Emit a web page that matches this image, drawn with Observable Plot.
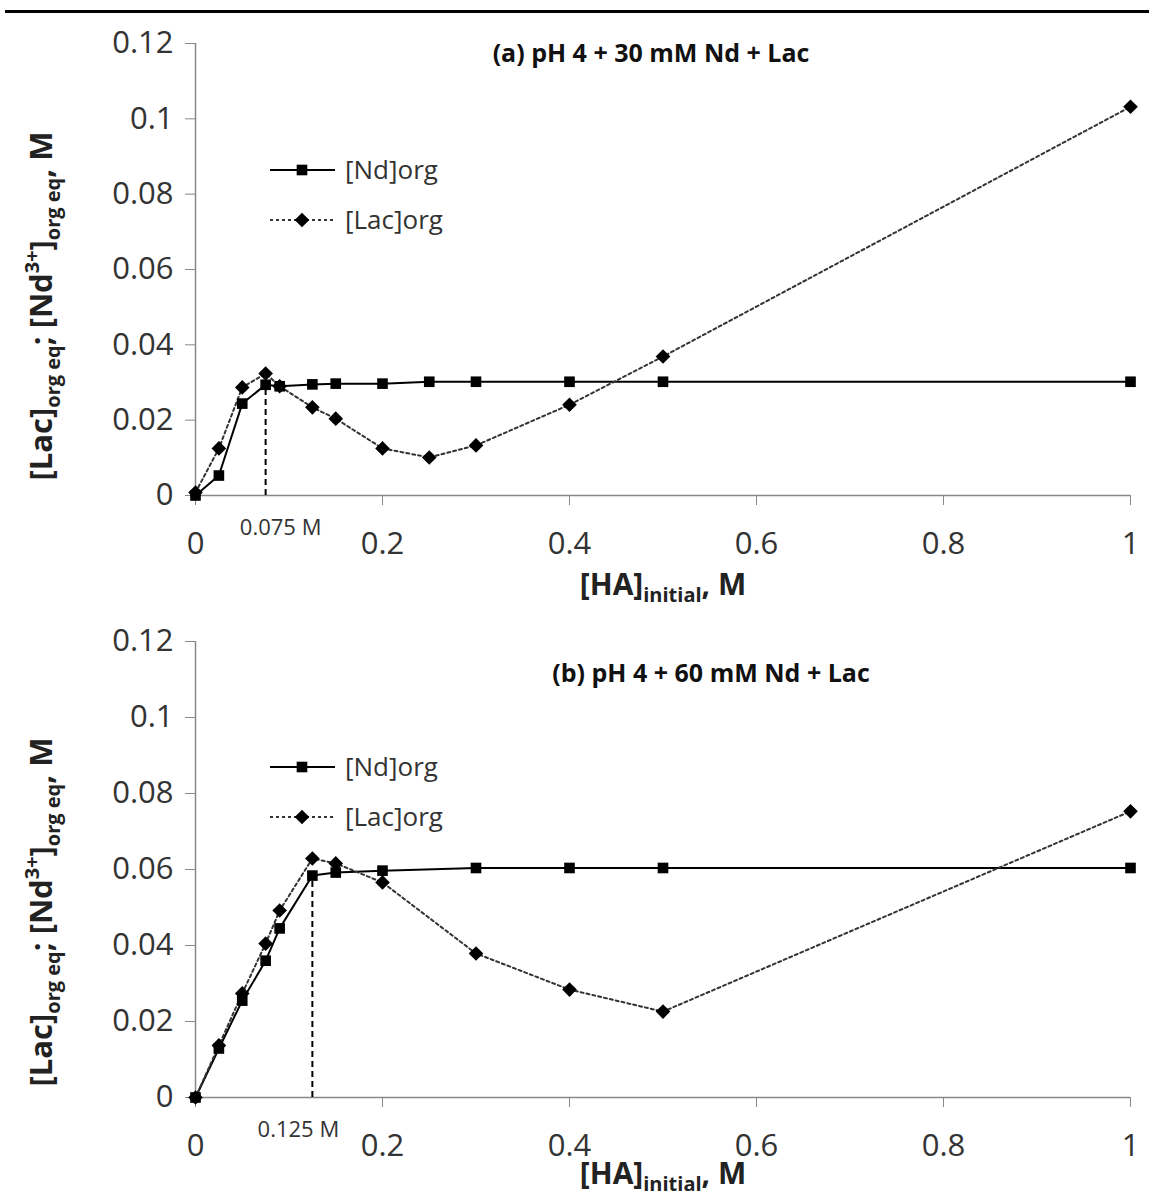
<!DOCTYPE html>
<html><head><meta charset="utf-8">
<script src="https://cdn.jsdelivr.net/npm/d3@7"></script>
<script src="https://cdn.jsdelivr.net/npm/@observablehq/plot@0.6"></script>
<style>
html,body{margin:0;padding:0;background:#fff;}
body{width:1149px;height:1200px;position:relative;overflow:hidden;font-family:"Open Sans",sans-serif;}
#rule{position:absolute;left:5px;top:10px;width:1144px;height:3px;background:#000;z-index:2;}
#a{position:absolute;left:0;top:15px;z-index:1;}
#b{position:absolute;left:0;top:600px;}
svg{overflow:visible;}
</style></head><body>
<div id="rule"></div><div id="a"></div><div id="b"></div>
<script>
// Panel (a): pH 4 + 30 mM Nd + Lac
const xA   = [0, 0.025, 0.05, 0.075, 0.09, 0.125, 0.15, 0.2, 0.25, 0.3, 0.4, 0.5, 1];
const ndA  = [0, 0.0053, 0.0244, 0.0294, 0.029, 0.0295, 0.0297, 0.0297, 0.0302, 0.0302, 0.0302, 0.0302, 0.0302];
const lacA = [0.0008, 0.0125, 0.0287, 0.0324, 0.029, 0.0234, 0.0204, 0.0125, 0.0101, 0.0133, 0.0241, 0.0369, 0.1032];
const cutA = 0.075, cutTopA = 0.0294;
// Panel (b): pH 4 + 60 mM Nd + Lac
const xB   = [0, 0.025, 0.05, 0.075, 0.09, 0.125, 0.15, 0.2, 0.3, 0.4, 0.5, 1];
const ndB  = [0, 0.0129, 0.0255, 0.036, 0.0445, 0.0584, 0.0592, 0.0597, 0.0604, 0.0604, 0.0604, 0.0604];
const lacB = [0, 0.0137, 0.0274, 0.0405, 0.0492, 0.0629, 0.0616, 0.0566, 0.0379, 0.0284, 0.0226, 0.0753];
const cutB = 0.125, cutTopB = 0.057;

const titles = ["(a) pH 4 + 30 mM Nd + Lac", "(b) pH 4 + 60 mM Nd + Lac"];
const seriesNames = ["[Nd]org", "[Lac]org"];
const xTicks = [0, 0.2, 0.4, 0.6, 0.8, 1];
const yTicks = [0, 0.02, 0.04, 0.06, 0.08, 0.1, 0.12];

const fmt = d => String(+d.toFixed(3));
const FONT = "'Open Sans', sans-serif";

function panel(el, cfg) {
  const rows = cfg.xs.map((x, i) => ({x, nd: cfg.nd[i], lac: cfg.lac[i]}));
  const cut = [{x: cfg.cut, y1: 0, y2: cfg.cutTop, label: fmt(cfg.cut) + " M"}];
  const plot = Plot.plot({
    width: 1149, height: cfg.h,
    marginLeft: 195, marginRight: 19, marginTop: cfg.mt, marginBottom: cfg.mb,
    style: {fontFamily: FONT, fontSize: "31px", color: "#333", background: "white", overflow: "visible"},
    x: {domain: [0, 1]},
    y: {domain: [0, 0.12]},
    marks: [
      Plot.axisX({ticks: xTicks, tickFormat: fmt, tickSize: 10, tickPadding: 26, label: null, stroke: "#888", fill: "#333"}),
      Plot.axisY({ticks: yTicks, tickFormat: fmt, tickSize: 10, tickPadding: 12, label: null, stroke: "#888", fill: "#333"}),
      Plot.ruleY([0], {stroke: "#888", strokeWidth: 1.5}),
      Plot.ruleX([0], {stroke: "#888", strokeWidth: 1.5}),
      Plot.ruleX(cut, {x: "x", y1: "y1", y2: "y2", stroke: "black", strokeWidth: 2, strokeDasharray: "6,4"}),
      Plot.text(cut, {x: "x", y: "y1", text: "label", dx: cfg.cutDx, dy: 32, fontSize: 22, fill: "#333"}),
      Plot.line(rows, {x: "x", y: "nd", stroke: "black", strokeWidth: 2}),
      Plot.line(rows, {x: "x", y: "lac", stroke: "#333", strokeWidth: 2, strokeDasharray: "3,3"}),
      Plot.dot(rows, {x: "x", y: "nd", symbol: "square", fill: "black", r: 6}),
      Plot.dot(rows, {x: "x", y: "lac", symbol: "diamond2", fill: "black", r: 6.6}),
      Plot.text([cfg.title], {frameAnchor: "top", lineAnchor: "middle", dx: cfg.titleDx, dy: cfg.titleDy, fontSize: 25, fontWeight: "bold", fill: "#111"})
    ]
  });
  const svg = d3.select(plot);
  // legend
  const lg = svg.append("g").attr("font-family", FONT).attr("font-size", 26).attr("fill", "#333").attr("text-anchor", "start");
  cfg.legY.forEach((ly, i) => {
    lg.append("line").attr("x1", 270).attr("x2", 335).attr("y1", ly).attr("y2", ly)
      .attr("stroke", i ? "#333" : "black").attr("stroke-width", 2)
      .attr("stroke-dasharray", i ? "3,3" : null);
    lg.append("path").attr("transform", `translate(302,${ly})`)
      .attr("d", d3.symbol(i ? d3.symbolDiamond2 : d3.symbolSquare, i ? 6.6 * 6.6 * Math.PI : 6 * 6 * Math.PI)())
      .attr("fill", "black");
    lg.append("text").attr("x", 345).attr("y", ly).attr("dy", "0.35em").text(seriesNames[i]);
  });
  // x axis label
  const xl = svg.append("text").attr("x", 663).attr("y", cfg.xLabY).attr("text-anchor", "middle")
    .attr("font-family", FONT).attr("font-weight", "bold").attr("font-size", 30).attr("fill", "#222");
  xl.append("tspan").text("[HA]");
  xl.append("tspan").attr("font-size", 20).attr("dy", 7).text("initial");
  xl.append("tspan").attr("dy", -7).text(", M");
  // y axis label
  const yl = svg.append("text").attr("transform", `translate(52,${cfg.yLabY}) rotate(-90)`).attr("text-anchor", "middle")
    .attr("font-family", FONT).attr("font-weight", "bold").attr("font-size", 31).attr("fill", "#222");
  yl.append("tspan").text("[Lac]");
  yl.append("tspan").attr("font-size", 20).attr("dy", 8).text("org eq");
  yl.append("tspan").attr("dy", -8).text("; [Nd");
  yl.append("tspan").attr("font-size", 20).attr("dy", -13).text("3+");
  yl.append("tspan").attr("dy", 13).text("]");
  yl.append("tspan").attr("font-size", 20).attr("dy", 8).text("org eq");
  yl.append("tspan").attr("dy", -8).text(", M");
  document.getElementById(el).appendChild(plot);
}

panel("a", {xs: xA, nd: ndA, lac: lacA, cut: cutA, cutTop: cutTopA, title: titles[0],
  h: 585, mt: 28, mb: 105, titleDx: -12, titleDy: 10, cutDx: 15,
  legY: [155, 205], xLabY: 580, yLabY: 291});
panel("b", {xs: xB, nd: ndB, lac: lacB, cut: cutB, cutTop: cutTopB, title: titles[1],
  h: 600, mt: 41, mb: 103, titleDx: 48, titleDy: 32, cutDx: -14,
  legY: [167, 217], xLabY: 584, yLabY: 312});
</script>
</body></html>
